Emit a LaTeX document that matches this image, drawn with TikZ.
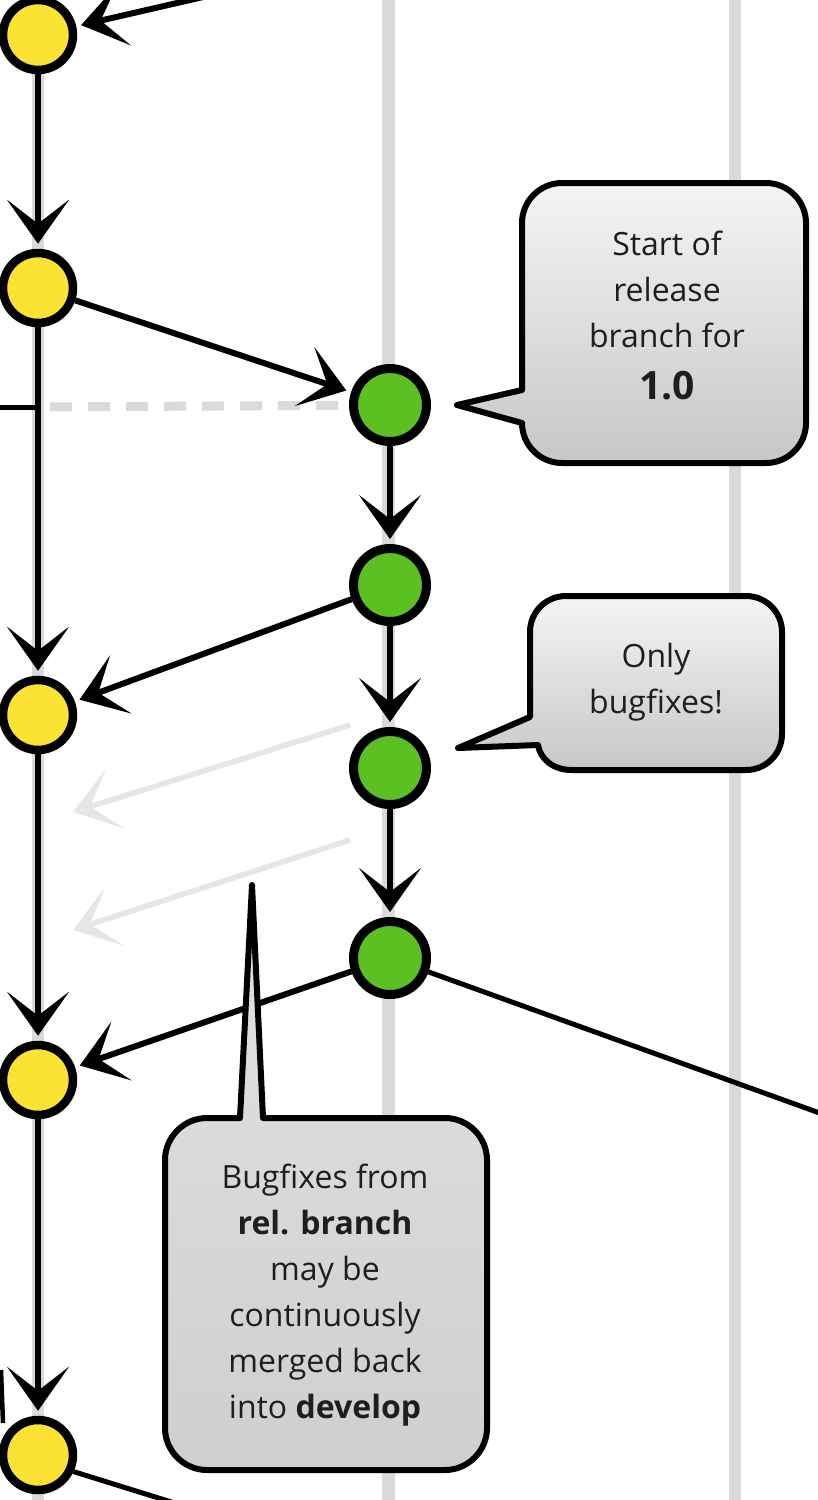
\documentclass[tikz,border=0pt]{standalone}
\usepackage{fontspec}
\setmainfont{Open Sans}
\usetikzlibrary{arrows.meta}
\definecolor{yel}{RGB}{252,226,50}
\definecolor{grn}{RGB}{92,192,35}
\definecolor{lanec}{RGB}{218,218,218}
\definecolor{ghost}{RGB}{230,230,230}
\definecolor{dashc}{RGB}{218,218,218}
\definecolor{txt}{RGB}{30,30,30}
\begin{document}
\begin{tikzpicture}[x=1pt,y=-1pt,
  ynode/.style={circle,draw=black,line width=8.5pt,fill=yel,minimum size=70pt,inner sep=0pt},
  gnode/.style={circle,draw=black,line width=9pt,fill=grn,minimum size=73pt,inner sep=0pt},
  conn/.style={draw=black,line width=6pt,shorten >=5pt,-{Stealth[length=44pt,width=62pt,inset=24pt]}},
  ghostarrow/.style={draw=ghost,line width=5.5pt,-{Stealth[length=44pt,width=62pt,inset=26pt]}},
  plainline/.style={draw=black,line width=5pt},
  lanestyle/.style={draw=lanec,line width=12pt},
  dashline/.style={draw=dashc,line width=9pt,dash pattern=on 22pt off 16pt},
  callout/.style={draw=black,line width=6pt,line join=round,top color=black!4,bottom color=black!22},
  calloutb/.style={draw=black,line width=6pt,line join=round,top color=black!11,bottom color=black!19},
  ctext/.style={align=center,text=txt,font=\fontsize{32}{46}\selectfont,inner sep=0pt}
]
\useasboundingbox (0,0) rectangle (818,1500);
\clip (0,0) rectangle (818,1500);

% lanes
\coordinate (la1) at (38,-10);  \coordinate (lb1) at (38,1510);
\coordinate (la2) at (388,-10); \coordinate (lb2) at (388,1510);
\coordinate (la3) at (735,-10); \coordinate (lb3) at (735,1510);
\draw[lanestyle,line width=12pt] (la1) -- (lb1);
\draw[lanestyle,line width=13pt] (la2) -- (lb2);
\draw[lanestyle] (la3) -- (lb3);

% commits
\node[ynode] (y1) at (38,35) {};
\node[ynode] (y2) at (38,288) {};
\node[ynode] (y3) at (38,715) {};
\node[ynode] (y4) at (38,1080) {};
\node[ynode] (y5) at (38,1455) {};
\node[gnode] (g1) at (390,405) {};
\node[gnode] (g2) at (390,585) {};
\node[gnode] (g3) at (390,768) {};
\node[gnode] (g4) at (390,958) {};

% off-canvas ends
\coordinate (topsrc) at (390,-46);
\coordinate (lft) at (-10,407);
\coordinate (dj) at (38,407);
\coordinate (rsrc) at (900,1142);
\coordinate (ybr) at (300,1542);
\coordinate (fa) at (1,1370);
\coordinate (fb) at (3,1423);
\coordinate (gh1s) at (350,725);
\coordinate (gh1e) at (73,812);
\coordinate (gh2s) at (350,840);
\coordinate (gh2e) at (73,930);

% connectors
\draw[dashline,shorten <=12pt] (dj) -- (g1);
\draw[plainline] (lft) -- (dj);
\draw[plainline,line width=4.5pt] (fa) -- (fb);
\draw[ghostarrow] (gh1s) -- (gh1e);
\draw[ghostarrow] (gh2s) -- (gh2e);
\draw[conn] (topsrc) -- (y1);
\draw[conn] (y1) -- (y2);
\draw[conn] (y2) -- (g1);
\draw[conn] (y2) -- (y3);
\draw[conn] (y3) -- (y4);
\draw[conn] (y4) -- (y5);
\draw[conn] (g1) -- (g2);
\draw[conn] (g2) -- (g3);
\draw[conn] (g3) -- (g4);
\draw[conn] (g2) -- (y3);
\draw[conn] (g4) -- (y4);
\draw[plainline] (g4) -- (rsrc);
\draw[plainline] (y5.-25) -- (ybr);

% callouts
\path[callout] (562,183) -- (766,183) .. controls (788,183) and (806,201) .. (806,223)
  -- (806,423) .. controls (806,445) and (788,463) .. (766,463)
  -- (562,463) .. controls (540,463) and (522,445) .. (522,423)
  -- (457,405) -- (522,390)
  -- (522,223) .. controls (522,201) and (540,183) .. (562,183) -- cycle;
\node[ctext] (t1) at (667,316) {Start of\\release\\branch for\\[6pt]{\fontsize{39}{46}\selectfont\bfseries 1.0}};

\path[callout] (566,596) -- (746,596) .. controls (766,596) and (782,612) .. (782,632)
  -- (782,734) .. controls (782,754) and (766,770) .. (746,770)
  -- (572,770) .. controls (552,770) and (540,758) .. (538,745)
  -- (458,748) -- (530,717)
  -- (530,632) .. controls (530,612) and (546,596) .. (566,596) -- cycle;
\node[ctext] (t2) at (656,682) {Only\\bugfixes!};

\path[calloutb] (207,1118) -- (240,1118) -- (252,885) -- (263,1118)
  -- (445,1118) .. controls (468,1118) and (487,1137) .. (487,1160)
  -- (487,1428) .. controls (487,1451) and (468,1470) .. (445,1470)
  -- (207,1470) .. controls (184,1470) and (165,1451) .. (165,1428)
  -- (165,1160) .. controls (165,1137) and (184,1118) .. (207,1118) -- cycle;
\node[ctext] (t3) at (325,1295) {Bugfixes from\\\textbf{rel. branch}\\may be\\continuously\\merged back\\into \textbf{develop}};
\end{tikzpicture}
\end{document}
